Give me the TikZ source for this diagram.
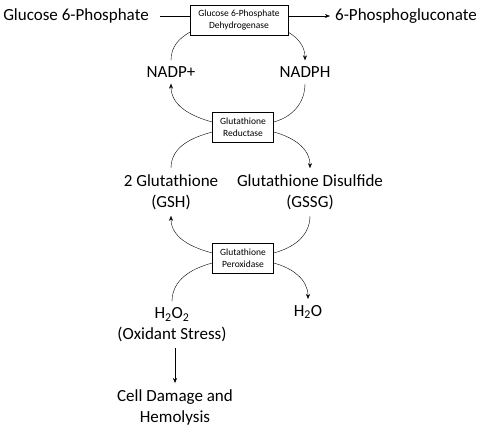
\documentclass[tikz,border=0pt]{standalone}
\usepackage{fontspec}
\setmainfont{Carlito}
\usetikzlibrary{arrows.meta}

\tikzset{
    metab/.style = {align=center, inner xsep=5pt, inner ysep=6pt, font=\fontsize{17}{21}\selectfont},
    enzyme/.style = {draw, align=center, minimum height=30pt, inner sep=1pt, font=\fontsize{9.5}{12}\selectfont},
    flow/.style = {-{Stealth[length=5pt, width=4pt]}}
}

\begin{document}
\begin{tikzpicture}[x=1pt, y=-1pt, thin]
        \useasboundingbox (0,0) rectangle (490,433);

        \node[metab] (g6p) at (76,16) {Glucose 6-Phosphate};
        \node[enzyme, minimum width=98pt] (g6pd) at (239,20) {Glucose 6-Phosphate\\Dehydrogenase};
        \node[metab] (pgl) at (406,16) {6-Phosphogluconate};
        \node[metab] (nadp) at (171,72) {NADP+};
        \node[metab] (nadph) at (305,72) {NADPH};
        \node[enzyme, minimum width=61pt] (gr) at (243,127) {Glutathione\\Reductase};
        \node[metab] (gsh) at (171,192) {2 Glutathione\\(GSH)};
        \node[metab] (gssg) at (310,192) {Glutathione Disulfide\\(GSSG)};
        \node[enzyme, minimum width=61pt] (gpx) at (243,258) {Glutathione\\Peroxidase};
        \node[metab] (hoo) at (172,325) {H\textsubscript{2}O\textsubscript{2}\\(Oxidant Stress)};
        \node[metab] (ho) at (308,312) {H\textsubscript{2}O};
        \node[metab] (cell) at (175,407) {Cell Damage and\\Hemolysis};

        % main reaction
        \draw[shorten <=6pt] (g6p.east) -- (g6p.east -| g6pd.west);
        \draw[flow] (g6p.east -| g6pd.east) -- (pgl.west);

        % NADP+ / NADPH cycle
        \draw (nadp.north) to[out=90, in=210] ([yshift=3pt]g6pd.south west);
        \draw[flow] ([yshift=3pt]g6pd.south east) to[out=-30, in=90] (nadph.north);
        \draw (nadph.south) to[out=-90, in=15] ([yshift=5pt]gr.east);
        \draw[flow] ([yshift=5pt]gr.west) to[out=165, in=-90] (nadp.south);

        % glutathione cycle
        \draw ([yshift=-5pt]gr.west) to[out=195, in=90] (gsh.north);
        \draw[flow] ([yshift=-5pt]gr.east) to[out=-15, in=90] (gssg.north);
        \draw (gssg.south) to[out=-90, in=15] ([yshift=5pt]gpx.east);
        \draw[flow] ([yshift=5pt]gpx.west) to[out=165, in=-90] (gsh.south);

        % peroxide
        \draw (hoo.north) to[out=90, in=195] ([yshift=-5pt]gpx.west);
        \draw[flow] ([yshift=-5pt]gpx.east) to[out=-15, in=90] (ho.north);
        \draw[flow] (cell.north |- hoo.south) -- (cell.north);
\end{tikzpicture}
\end{document}
